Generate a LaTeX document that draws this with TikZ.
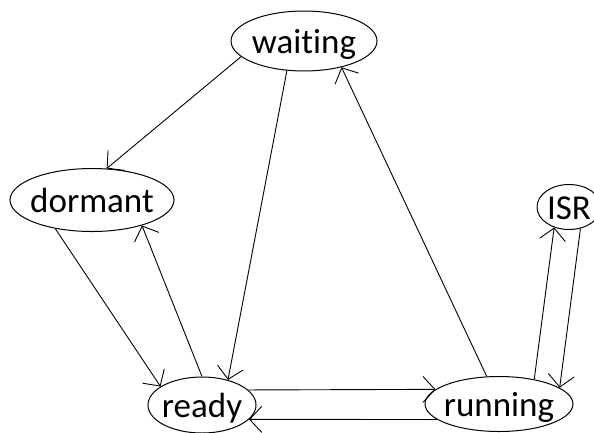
\documentclass[tikz,border=0pt]{standalone}
\usepackage{fontspec}
\setmainfont{Carlito}[Ligatures=NoCommon]
\usetikzlibrary{shapes.geometric}
\usetikzlibrary{arrows.meta}

\begin{document}
\begin{tikzpicture}[x=1pt,y=-1pt]
      \tikzstyle{state}=[
        ellipse,
        draw=black,
        line width=1pt,
        inner xsep=-6pt,
        inner ysep=-4pt,
        text height=30pt,
        text depth=5pt,
        font=\fontsize{35}{40}\selectfont,
      ]
      \tikzstyle{dedge} = [-{Straight Barb[length=12pt,width=26pt]},line width=0.9pt,draw=black]

      \useasboundingbox (0,0) rectangle (594,432);

      \node[state, minimum width=146pt, minimum height=60pt] (waiting) at (304,41) {waiting};
      \node[state, minimum width=164pt, minimum height=63pt] (dormant) at (92,200) {dormant};
      \node[state, minimum width=64pt, minimum height=45pt] (ISR) at (569,207) {ISR};
      \node[state, minimum width=108pt, minimum height=56pt] (ready) at (202,405) {ready};
      \node[state, minimum width=148pt, minimum height=55pt] (running) at (499,404) {running};

      \draw[dedge] (waiting.194)--(dormant.65);
      \draw[dedge] (waiting.240)--(ready.44);
      \draw[dedge] (running.114)--(waiting.325);
      \draw[dedge] (dormant.218)--(ready.156);
      \draw[dedge] (ready.90)--(dormant.333);
      \draw[dedge] (ready.18)--(running.167);
      \draw[dedge] (running.194)--(ready.343);
      \draw[dedge] (running.35)--(ISR.234);
      \draw[dedge] (ISR.298)--(running.15);
    \end{tikzpicture}
\end{document}
